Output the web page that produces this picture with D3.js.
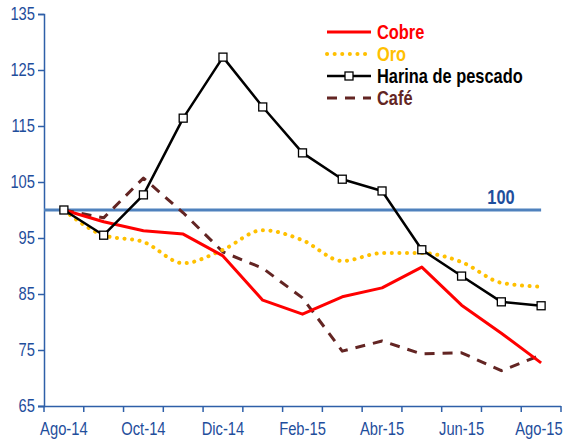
<!DOCTYPE html>
<html><head><meta charset="utf-8">
<script src="https://cdn.jsdelivr.net/npm/d3@7"></script>
<style>body{margin:0;background:#fff}svg{display:block;font-family:"Liberation Sans",Arial,sans-serif}</style>
</head><body>
<script>
const months = ["Ago-14","Sep-14","Oct-14","Nov-14","Dic-14","Ene-15","Feb-15","Mar-15","Abr-15","May-15","Jun-15","Jul-15","Ago-15"];
const tickLabels = ["Ago-14","Oct-14","Dic-14","Feb-15","Abr-15","Jun-15","Ago-15"];
const cobre  = [100, 97.9, 96.3, 95.7, 91.8, 83.9, 81.4, 84.5, 86.1, 89.8, 83.0, 78.0, 72.7];
const oro    = [100, 95.5, 94.3, 90.5, 92.9, 96.4, 94.6, 90.9, 92.3, 92.3, 90.7, 87.0, 86.3];
const harina = [100, 95.5, 102.7, 116.4, 127.3, 118.4, 110.2, 105.5, 103.4, 92.9, 88.2, 83.6, 82.9];
const cafe   = [100, 98.6, 105.7, 99.5, 92.5, 89.6, 84.3, 74.8, 76.6, 74.3, 74.5, 71.3, 74.1];
const yTicks = [65, 75, 85, 95, 105, 115, 125, 135];
const refValue = 100;

const W = 567, H = 441;
const FONT = '"Liberation Sans",Arial,sans-serif';
const svg = d3.select("body").append("svg").attr("width", W).attr("height", H);
const x = d3.scaleBand().domain(months).range([44, 561]);
const y = d3.scaleLinear().domain([65, 135]).range([406, 14]);
const cx = m => x(m) + x.bandwidth() / 2;
const axisCol = "#2e5fa8", labelCol = "#1f4e9c";
// condense text horizontally to mimic a narrow typeface
function narrow(sel, k = 0.82) {
  sel.each(function () {
    const t = d3.select(this);
    const px = +(t.attr("x") || 0);
    const prev = t.attr("transform") || "";
    t.attr("transform", `${prev} translate(${px},0) scale(${k},1) translate(${-px},0)`);
  });
}

// y axis
const ya = svg.append("g").attr("transform", "translate(44,0)")
  .call(d3.axisLeft(y).tickValues(yTicks).tickSize(6).tickPadding(3));
// x axis
const xa = svg.append("g").attr("transform", "translate(0,406)")
  .call(d3.axisBottom(x).tickValues(months).tickSize(0).tickFormat(""));
// boundary ticks
const bounds = months.map(m => x(m)).concat([x.range()[1]]);
svg.append("g").selectAll("line").data(bounds).join("line")
  .attr("x1", d => d).attr("x2", d => d).attr("y1", 406).attr("y2", 412)
  .attr("stroke", axisCol).attr("stroke-width", 1.5);
const xl = svg.append("g").selectAll("text").data(tickLabels).join("text")
  .attr("x", d => Math.min(cx(d), 539)).attr("y", 435).attr("text-anchor", "middle")
  .attr("font-family", FONT).attr("font-size", 18).attr("fill", labelCol).text(d => d);
narrow(xl);
[ya, xa].forEach(g => {
  g.select(".domain").attr("stroke", axisCol).attr("stroke-width", 1.5);
  g.selectAll(".tick line").attr("stroke", axisCol).attr("stroke-width", 1.5);
  g.selectAll(".tick text").attr("fill", labelCol).attr("font-size", 18)
    .attr("font-family", FONT);
});
narrow(ya.selectAll(".tick text"));
xa.select(".domain").attr("d", `M38,0.5H561`);

// reference line
svg.append("line").attr("x1", 44).attr("x2", cx(months[months.length-1]))
  .attr("y1", y(refValue)).attr("y2", y(refValue))
  .attr("stroke", "#4f81bd").attr("stroke-width", 3);
narrow(svg.append("text").attr("x", 501).attr("y", y(refValue) - 6).attr("text-anchor", "middle")
  .attr("font-family", FONT).attr("font-size", 20).attr("font-weight", "bold").attr("fill", "#1f4e9c").text(refValue));

const series = [
  {name: "Cobre", vals: cobre, color: "#ff0000", width: 3, dash: null, curve: d3.curveLinear},
  {name: "Oro", vals: oro, color: "#ffc000", width: 4, dash: "0.1 7.5", curve: d3.curveMonotoneX, cap: "round"},
  {name: "Harina de pescado", vals: harina, color: "#000000", width: 2.5, dash: null, curve: d3.curveLinear, marker: true},
  {name: "Café", vals: cafe, color: "#632523", width: 3, dash: "10 8", curve: d3.curveLinear}
];
const drawOrder = [series[3], series[1], series[0], series[2]];
drawOrder.forEach(s => {
  const line = d3.line().x((d, i) => cx(months[i])).y(d => y(d)).curve(s.curve);
  svg.append("path").datum(s.vals).attr("d", line).attr("fill", "none")
    .attr("stroke", s.color).attr("stroke-width", s.width)
    .attr("stroke-dasharray", s.dash).attr("stroke-linecap", s.cap || "butt")
    .attr("stroke-linejoin", "round");
  if (s.marker) {
    svg.append("g").selectAll("rect").data(s.vals).join("rect")
      .attr("x", (d, i) => cx(months[i]) - 4).attr("y", d => y(d) - 4)
      .attr("width", 8).attr("height", 8).attr("fill", "#fff")
      .attr("stroke", "#000").attr("stroke-width", 1.3);
  }
});

// legend
const lg = svg.append("g");
series.forEach((s, i) => {
  const yy = 32 + i * 22;
  lg.append("line").attr("x1", 327).attr("x2", 371).attr("y1", yy).attr("y2", yy)
    .attr("stroke", s.color).attr("stroke-width", s.width)
    .attr("stroke-dasharray", s.dash).attr("stroke-linecap", s.cap || "butt");
  if (s.marker) lg.append("rect").attr("x", 345).attr("y", yy - 4).attr("width", 8).attr("height", 8)
    .attr("fill", "#fff").attr("stroke", "#000").attr("stroke-width", 1.3);
  narrow(lg.append("text").attr("x", 377).attr("y", yy + 7).attr("font-family", FONT).attr("font-size", 20).attr("font-weight", "bold")
    .attr("fill", s.color).text(s.name));
});
</script>
</body></html>
